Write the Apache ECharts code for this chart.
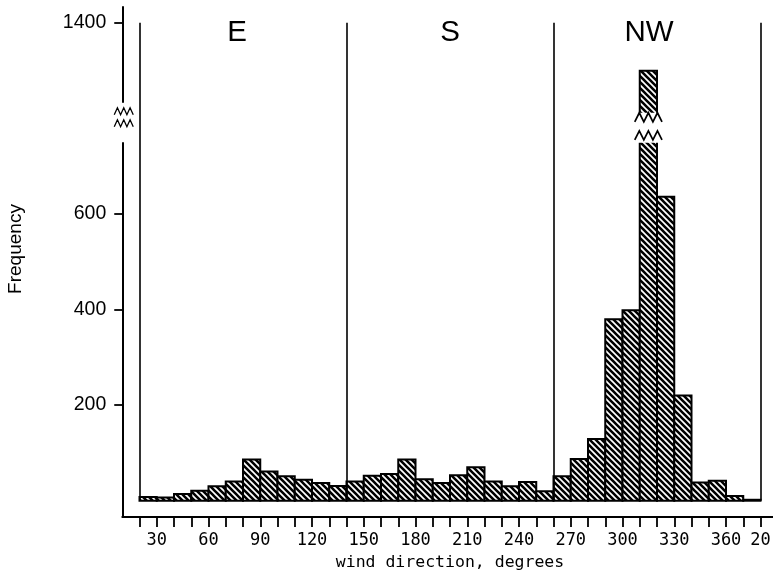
<!DOCTYPE html>
<html>
<head>
<meta charset="utf-8">
<script src="https://cdn.jsdelivr.net/npm/echarts@6/dist/echarts.min.js"></script>
<style>
  html, body { margin: 0; padding: 0; background: #fff; }
  #chart { width: 773px; height: 571px; }
</style>
</head>
<body>
<div id="chart"></div>
<script>
// ---- data ----
const binStarts = [20, 30, 40, 50, 60, 70, 80, 90, 100, 110, 120, 130,
                   140, 150, 160, 170, 180, 190, 200, 210, 220, 230, 240, 250,
                   260, 270, 280, 290, 300, 310, 320, 330, 340, 350, 360, 370];
const binEnds   = [30, 40, 50, 60, 70, 80, 90, 100, 110, 120, 130, 140,
                   150, 160, 170, 180, 190, 200, 210, 220, 230, 240, 250, 260,
                   270, 280, 290, 300, 310, 320, 330, 340, 350, 360, 370, 380];
const frequency = [8, 7, 14, 21, 30, 40, 86, 61, 51, 44, 37, 31,
                   40, 52, 56, 86, 45, 37, 53, 70, 40, 30, 39, 20,
                   51, 87, 129, 379, 398, 1300, 635, 220, 38, 42, 10, 2];
const yTickValues = [200, 400, 600, 1400];
const xTickValues = [20, 30, 40, 50, 60, 70, 80, 90, 100, 110, 120, 130, 140, 150, 160, 170, 180, 190,
                     200, 210, 220, 230, 240, 250, 260, 270, 280, 290, 300, 310, 320, 330, 340, 350, 360, 370, 380];
const xLabelValues = [30, 60, 90, 120, 150, 180, 210, 240, 270, 300, 330, 360, 380];
const xLabelText = { 380: '20' };
const regionNames = ['E', 'S', 'NW'];
const regionFrom = [20, 140, 260];
const regionTo = [140, 260, 380];
const regionBounds = [20, 140, 260, 380];
const regionTop = 1400;
const yBreak = { start: 748, end: 1212 };

// ---- styles ----
const regionLabelNudge = [-6, 0, -8];
const SANS = 'Liberation Sans';
const MONO = 'DejaVu Sans Mono';

function makeHatch() {
  const s = 6;
  const c = document.createElement('canvas');
  c.width = s; c.height = s;
  const g = c.getContext('2d');
  g.fillStyle = '#fff';
  g.fillRect(0, 0, s, s);
  g.strokeStyle = '#000';
  g.lineWidth = 2.6;
  g.beginPath();
  for (const k of [-1, 0, 1]) {
    g.moveTo(k * s - 1, -1);
    g.lineTo(k * s + s + 1, s + 1);
  }
  g.stroke();
  return c;
}
const hatch = makeHatch();

function zig(xa, xb, yc, amp, n, lw) {
  const pts = [];
  const seg = n * 2;
  for (let i = 0; i <= seg; i++) {
    pts.push([xa + (xb - xa) * i / seg, yc + (i % 2 ? -amp : amp)]);
  }
  return { type: 'polyline', shape: { points: pts }, style: { stroke: '#000', lineWidth: lw || 1.5, fill: null } };
}

const chart = echarts.init(document.getElementById('chart'), null, { renderer: 'canvas' });

const option = {
  backgroundColor: '#fff',
  animation: false,
  grid: { left: 122.25, right: -4.75, top: 7, bottom: 54, outerBoundsMode: 'none', containLabel: false },
  xAxis: {
    type: 'value', min: 10, max: 390,
    axisLine: { show: true, onZero: false, lineStyle: { color: '#000', width: 1.8 } },
    axisTick: { show: true, customValues: xTickValues, length: 10, lineStyle: { color: '#000', width: 1.8 } },
    axisLabel: {
      customValues: xLabelValues,
      formatter: v => (xLabelText[v] !== undefined ? xLabelText[v] : String(v)),
      margin: 15, fontFamily: MONO, fontSize: 17, color: '#000'
    },
    splitLine: { show: false },
    name: 'wind direction, degrees', nameLocation: 'middle', nameGap: 33,
    nameTextStyle: { fontFamily: MONO, fontSize: 16.5, color: '#000' }
  },
  yAxis: {
    type: 'value', min: -34, max: 1433,
    breaks: [{ start: yBreak.start, end: yBreak.end, gap: 62.7 }],
    breakArea: { show: false },
    axisLine: { show: true, onZero: false, lineStyle: { color: '#000', width: 2 } },
    axisTick: { show: true, customValues: yTickValues, length: 8, lineStyle: { color: '#000', width: 1.8 } },
    axisLabel: { customValues: yTickValues, formatter: v => String(v), margin: 16, fontFamily: SANS, fontSize: 19.5, color: '#000' },
    splitLine: { show: false },
    name: 'Frequency', nameLocation: 'middle', nameGap: 97, nameRotate: 90,
    nameTextStyle: { fontFamily: SANS, fontSize: 19, color: '#000', padding: [0, 0, 0, 26] }
  },
  series: [{
    type: 'custom',
    clip: false,
    data: binStarts.map((s, i) => [s, binEnds[i], frequency[i]]),
    encode: { x: [0, 1], y: 2 },
    renderItem: function (params, api) {
      const x0 = api.value(0), x1 = api.value(1), v = api.value(2);
      const bl = api.coord([x0, 0]);
      const tr = api.coord([x1, v]);
      const x = bl[0], w = tr[0] - bl[0];
      const children = [{
        type: 'rect',
        shape: { x: x, y: tr[1], width: w, height: bl[1] - tr[1] },
        style: { fill: { image: hatch, repeat: 'repeat' }, stroke: '#000', lineWidth: 2 }
      }];
      if (v > yBreak.end) {
        const yS = api.coord([x0, yBreak.start])[1];
        const yE = api.coord([x0, yBreak.end])[1];
        children.push({ type: 'rect', shape: { x: x - 4, y: yE, width: w + 8, height: yS - yE }, style: { fill: '#fff' } });
        children.push(zig(x - 5, x + w + 5, yE + 4.5, 4.5, 3, 1.7));
        children.push(zig(x - 5, x + w + 5, yS - 7.5, 4.5, 3, 1.7));
      }
      return { type: 'group', children: children };
    },
    markLine: {
      silent: true, symbol: 'none', label: { show: false },
      lineStyle: { color: '#000', width: 1.6, type: 'solid' },
      data: regionBounds.map(b => [{ coord: [b, 0] }, { coord: [b, regionTop] }])
    },
    markArea: {
      silent: true,
      itemStyle: { color: 'rgba(0,0,0,0)' },
      label: { show: true, position: 'insideTop', distance: 0, fontFamily: SANS, fontSize: 29.5, color: '#000' },
      data: regionNames.map((n, i) => [
        { name: n, coord: [regionFrom[i], regionTop], label: { offset: [regionLabelNudge[i], -5] } },
        { coord: [regionTo[i], 0] }
      ])
    }
  }]
};

chart.setOption(option);

// axis break symbol on the y axis line
const ax = chart.convertToPixel({ xAxisIndex: 0 }, 10);
const yS = chart.convertToPixel({ yAxisIndex: 0 }, yBreak.start);
const yE = chart.convertToPixel({ yAxisIndex: 0 }, yBreak.end);
chart.setOption({
  graphic: [
    { type: 'rect', shape: { x: ax - 4, y: yE - 10, width: 8, height: (yS - 15) - (yE - 10) }, style: { fill: '#fff' }, z: 100 },
    Object.assign(zig(ax - 8, ax + 11, yE - 1.5, 3.5, 3, 1.3), { z: 101 }),
    Object.assign(zig(ax - 8, ax + 11, yS - 19.5, 3.5, 3, 1.3), { z: 101 })
  ]
});
</script>
</body>
</html>
